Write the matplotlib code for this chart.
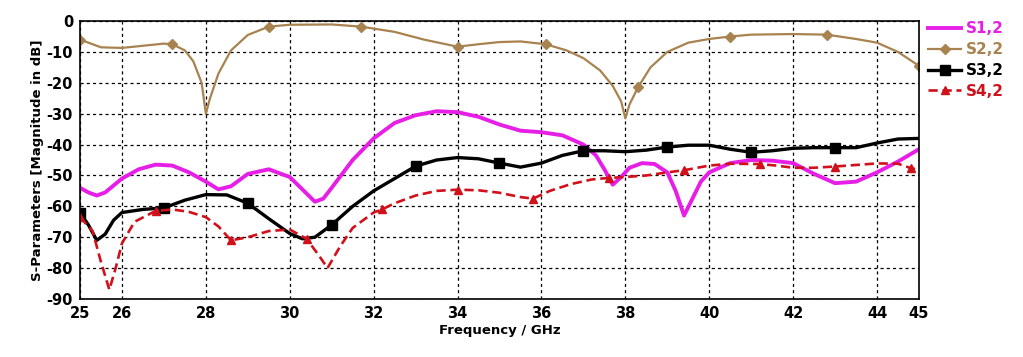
import matplotlib
matplotlib.use("Agg")
import matplotlib.pyplot as plt

# S1,2 (magenta, no markers)
f1 = [25, 25.2, 25.4, 25.6, 26, 26.4, 26.8, 27.2, 27.6, 28, 28.3, 28.6, 29, 29.5,
      30, 30.3, 30.6, 30.8, 31, 31.5, 32, 32.5, 33, 33.5, 34, 34.5, 35, 35.5, 36,
      36.5, 37, 37.3, 37.5, 37.7, 37.9, 38.1, 38.4, 38.7, 39, 39.2, 39.4, 39.6,
      39.8, 40, 40.5, 41, 41.5, 42, 42.5, 43, 43.5, 44, 44.5, 45]
s12 = [-54, -55.5, -56.5, -55.5, -51, -48, -46.5, -46.8, -49, -52, -54.5, -53.5,
       -49.5, -48, -50.5, -54.5, -58.5, -57.5, -54, -45, -38, -33, -30.5, -29.2,
       -29.5, -31, -33.5, -35.5, -36, -37, -40, -43.5, -48, -53, -50.5, -47.5,
       -46, -46.3, -49, -55, -63, -57.5, -52, -49, -46, -45, -45.2, -46, -49.5,
       -52.5, -52, -49, -45.5, -41.5]

# S2,2 (tan, diamonds)
f2 = [25, 25.5, 26, 26.5, 27, 27.2, 27.5, 27.7, 27.9, 28, 28.1, 28.3, 28.6, 29,
      29.5, 30, 31, 31.7, 32.5, 33.2, 34, 34.5, 35, 35.5, 36.1, 36.6, 37, 37.4,
      37.7, 37.9, 38, 38.1, 38.3, 38.6, 39, 39.5, 40, 40.5, 41, 42, 42.8, 43.5,
      44, 44.5, 45]
s22 = [-6, -8.5, -8.7, -8, -7.3, -7.5, -9.5, -13, -20, -30, -25, -17, -9.5,
       -4.5, -1.8, -1.2, -1.1, -1.8, -3.5, -6, -8.3, -7.5, -6.8, -6.6, -7.5, -9.5,
       -12, -16, -21, -26, -31.5, -27, -21.5, -15, -10, -7, -5.8, -5, -4.4, -4.2,
       -4.4, -5.8, -7, -10, -14.5]
m2 = [25, 27.2, 29.5, 31.7, 34, 36.1, 38.3, 40.5, 42.8, 45]

# S3,2 (black, squares)
f3 = [25, 25.2, 25.4, 25.6, 25.8, 26, 26.5, 27, 27.5, 28, 28.5, 29, 29.5, 30,
      30.3, 30.6, 31, 31.5, 32, 32.5, 33, 33.5, 34, 34.5, 35, 35.5, 36, 36.5, 37,
      37.5, 38, 38.5, 39, 39.5, 40, 40.5, 41, 41.5, 42, 42.5, 43, 43.5, 44, 44.5,
      45]
s32 = [-62, -66, -71, -69, -64.5, -62, -61, -60.5, -58, -56.2, -56.3, -59, -64,
       -68.8, -70.5, -70, -66, -60, -55, -51, -47, -45, -44.2, -44.6, -46, -47.3,
       -46, -43.5, -42, -42, -42.3, -41.8, -40.8, -40.2, -40.2, -41.5, -42.5,
       -42, -41.2, -41, -41, -41, -39.5, -38.2, -38]
m3 = [25, 27, 29, 31, 33, 35, 37, 39, 41, 43]

# S4,2 (red dashed, triangles)
f4 = [25, 25.3, 25.5, 25.7, 25.85, 26, 26.3, 26.8, 27.2, 27.6, 28, 28.3, 28.6,
      29, 29.5, 30, 30.4, 30.7, 30.9, 31.2, 31.5, 32, 32.2, 32.5, 33, 33.5, 34,
      34.5, 35, 35.5, 35.8, 36.2, 36.7, 37.2, 37.6, 38, 38.5, 39, 39.4, 40, 40.5,
      41.2, 41.6, 42, 42.5, 43, 43.5, 44, 44.5, 44.8, 45]
s42 = [-63.5, -68, -78, -87, -80, -72, -65, -61.5, -61, -61.8, -63.5, -66.5, -71,
       -70, -68, -67.5, -70.5, -76, -80, -73, -67, -62, -61, -59, -56.5, -55,
       -54.6, -54.8, -55.6, -57, -57.5, -55, -52.8, -51.3, -50.8, -50.5, -50,
       -49, -48.3, -46.8, -46.2, -46.3, -46.8, -47.5, -47.5, -47.1, -46.6, -46.1,
       -46.2, -47.6, -48.2]
m4 = [25, 26.8, 28.6, 30.4, 32.2, 34, 35.8, 37.6, 39.4, 41.2, 43, 44.8]

xticks = [25, 26, 28, 30, 32, 34, 36, 38, 40, 42, 44, 45]
yticks = list(range(-90, 1, 10))

MAGENTA = "#E61EE6"
TAN = "#A8834F"
RED = "#D0101A"


def idx(xs, marks):
    return [xs.index(m) for m in marks]


plt.rcParams.update({
    "font.family": "DejaVu Sans",
    "font.weight": "bold",
    "axes.unicode_minus": False,
})

fig = plt.figure(figsize=(10.23, 3.57), dpi=100)
ax = fig.add_axes([0.0782, 0.1625, 0.8201, 0.7785])

ax.plot(f1, s12, color=MAGENTA, lw=2.8, label="S1,2")
ax.plot(f2, s22, color=TAN, lw=1.6, marker="D", ms=5,
        markevery=idx(f2, m2), label="S2,2")
ax.plot(f3, s32, color="black", lw=2.4, marker="s", ms=6.5,
        markevery=idx(f3, m3), label="S3,2")
ax.plot(f4, s42, color=RED, lw=1.9, ls=(0, (3.5, 1.8)), marker="^", ms=6,
        markevery=idx(f4, m4), label="S4,2")

ax.set_xlim(25, 45)
ax.set_ylim(-90, 0)
ax.set_xticks(xticks)
ax.set_yticks(yticks)
ax.tick_params(labelsize=10.5, length=0, pad=5)
for lab in ax.get_xticklabels() + ax.get_yticklabels():
    lab.set_fontweight("bold")
ax.grid(True, color="black", lw=0.9, ls=(0, (2.5, 2.5)))
ax.set_axisbelow(True)
ax.set_xlabel("Frequency / GHz", fontsize=9.5, fontweight="bold", labelpad=2)
ax.set_ylabel("S-Parameters [Magnitude in dB]", fontsize=9.5,
              fontweight="bold", labelpad=2)
for sp in ax.spines.values():
    sp.set_linewidth(1.2)

leg = fig.legend(loc="upper left", bbox_to_anchor=(0.907, 0.94), frameon=False,
                 fontsize=11, handlelength=2.2, labelspacing=0.38,
                 handletextpad=0.3, borderpad=0, borderaxespad=0,
                 labelcolor=[MAGENTA, TAN, "black", RED])
for t in leg.get_texts():
    t.set_fontweight("bold")

fig.savefig("out.png", dpi=100)
